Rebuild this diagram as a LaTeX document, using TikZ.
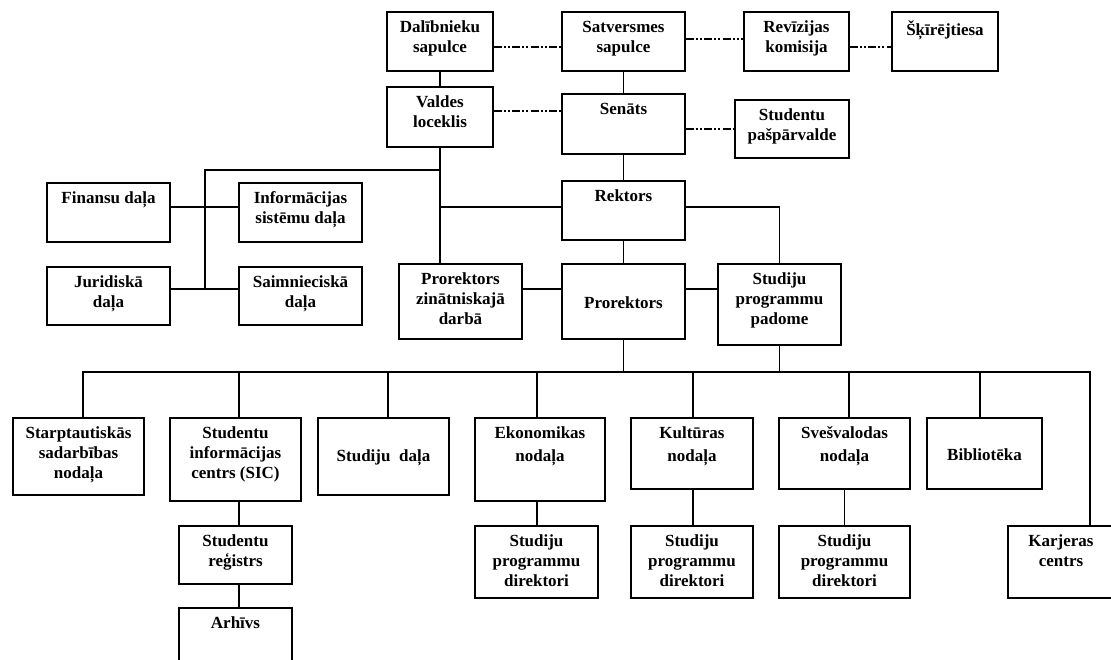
\documentclass[tikz,border=0pt]{standalone}
\usepackage{fontspec}
\setmainfont{Liberation Serif}
\usetikzlibrary{fit}
\tikzset{
 txt/.style={font=\bfseries\fontsize{12.75}{15}\selectfont},
 box/.style={draw, line width=1.1pt, inner sep=0pt, txt},
 lbl/.style={anchor=north, inner sep=0pt, align=center, yshift=-6.75pt, txt},
 clbl/.style={anchor=base, inner sep=0pt, yshift=-1pt, txt},
 conn/.style={line width=1.1pt},
 dd/.style={line width=1.6pt, dash pattern=on 6pt off 1.6pt on 1.5pt off 1.6pt on 1.5pt off 1.6pt},
}
\newcommand\tbox[6]{\node[box, fit={(#2,#3) (#4,#5)}, label={[lbl]north:{\rule{0pt}{9pt}#6}}] (#1) {};}
\newcommand\cbox[6]{\node[box, fit={(#2,#3) (#4,#5)}, label={[clbl]center:{#6}}] (#1) {};}
\begin{document}
\begin{tikzpicture}[x=0.75pt,y=-0.75pt]
\useasboundingbox (0,0) rectangle (1111,660);
\fill[white] (0,0) rectangle (1111,660);
% top rows
\tbox{dal}{387}{12}{493}{71}{Dalībnieku\\sapulce}
\tbox{sat}{562}{12}{685}{71}{Satversmes\\sapulce}
\tbox{rev}{744}{12}{849}{71}{Revīzijas\\komisija}
\tbox{sk}{892}{12}{998}{71}{Šķīrējtiesa}
\tbox{val}{387}{87}{493}{147}{Valdes\\loceklis}
\tbox{sen}{562}{94}{685}{154}{Senāts}
\tbox{stp}{735}{100}{849}{158}{Studentu\\pašpārvalde}
% left departments
\tbox{fin}{47}{183}{170}{242}{Finansu daļa}
\tbox{inf}{239}{183}{362}{242}{Informācijas\\sistēmu daļa}
\tbox{jur}{47}{267}{170}{325}{Juridiskā\\daļa}
\tbox{sai}{239}{267}{362}{325}{Saimnieciskā\\daļa}
% rector level
\tbox{rek}{562}{181}{685}{240}{Rektors}
\tbox{prz}{399}{264}{522}{339}{Prorektors\\zinātniskajā\\darbā}
\cbox{pro}{562}{264}{685}{339}{Prorektors}
\tbox{spp}{718}{264}{841}{345}{Studiju\\programmu\\padome}
% bottom row
\tbox{sta}{13}{418}{144}{495}{Starptautiskās\\sadarbības\\nodaļa}
\tbox{sic}{170}{418}{301}{501}{Studentu\\informācijas\\centrs (SIC)}
\cbox{sd}{318}{418}{449}{495}{Studiju~~daļa}
\tbox{ek}{475}{418}{605}{501}{Ekonomikas\\[2pt]nodaļa}
\tbox{ku}{631}{418}{753}{489}{Kultūras\\[2pt]nodaļa}
\tbox{sv}{779}{418}{910}{489}{Svešvalodas\\[2pt]nodaļa}
\cbox{bib}{927}{418}{1042}{489}{Bibliotēka}
\tbox{reg}{179}{526}{292}{584}{Studentu\\reģistrs}
\tbox{arh}{179}{608}{292}{664}{Arhīvs}
\tbox{spda}{475}{526}{598}{598}{Studiju\\programmu\\direktori}
\tbox{spdb}{631}{526}{753}{598}{Studiju\\programmu\\direktori}
\tbox{spdc}{779}{526}{910}{598}{Studiju\\programmu\\direktori}
\tbox{kar}{1008}{526}{1114}{598}{Karjeras\\centrs}
% dash-dot links
\draw[dd] (dal.east |- 0,47) -- (sat.west |- 0,47);
\draw[dd] (sat.east |- 0,39) -- (rev.west |- 0,39);
\draw[dd] (rev.east |- 0,47) -- (sk.west |- 0,47);
\draw[dd] (val.east |- 0,111) -- (sen.west |- 0,111);
\draw[dd] (sen.east |- 0,129) -- (stp.west |- 0,129);
% solid links
\coordinate (j1) at (205,170);
\coordinate (j2) at (205,289);
\draw[conn] (dal.south) -- (val.north);
\draw[conn] (sat.south) -- (sen.north);
\draw[conn] (sen.south) -- (rek.north);
\draw[conn] (val.south) -- (val.south |- prz.north);
\draw[conn] (val.south |- j1) -- (j1) -- (j2);
\draw[conn] (fin.east |- 0,207) -- (inf.west |- 0,207);
\draw[conn] (jur.east |- j2) -- (sai.west |- j2);
\draw[conn] (val.south |- 0,207) -- (rek.west |- 0,207);
\draw[conn] (rek.east |- 0,207) -| (spp.north);
\draw[conn] (rek.south) -- (pro.north);
\draw[conn] (prz.east |- 0,289) -- (pro.west |- 0,289);
\draw[conn] (pro.east |- 0,289) -- (spp.west |- 0,289);
% bus
\coordinate (bl) at (83,372);
\coordinate (br) at (1090,372);
\coordinate (t2) at (239,372);
\coordinate (t3) at (388,372);
\coordinate (t4) at (537,372);
\coordinate (t5) at (693,372);
\coordinate (t6) at (849,372);
\coordinate (t7) at (980,372);
\draw[conn] (pro.south) -- (pro.south |- bl);
\draw[conn] (spp.south) -- (spp.south |- bl);
\draw[conn] (bl |- sta.north) -- (bl) -- (br) -- (br |- kar.north);
\draw[conn] (t2) -- (t2 |- sic.north);
\draw[conn] (t3) -- (t3 |- sd.north);
\draw[conn] (t4) -- (t4 |- ek.north);
\draw[conn] (t5) -- (t5 |- ku.north);
\draw[conn] (t6) -- (t6 |- sv.north);
\draw[conn] (t7) -- (t7 |- bib.north);
\draw[conn] (sic.south -| t2) -- (reg.north -| t2);
\draw[conn] (reg.south -| t2) -- (arh.north -| t2);
\draw[conn] (ek.south -| t4) -- (spda.north -| t4);
\draw[conn] (ku.south -| t5) -- (spdb.north -| t5);
\draw[conn] (spdc.north) -- (spdc.north |- sv.south);
\end{tikzpicture}
\end{document}
